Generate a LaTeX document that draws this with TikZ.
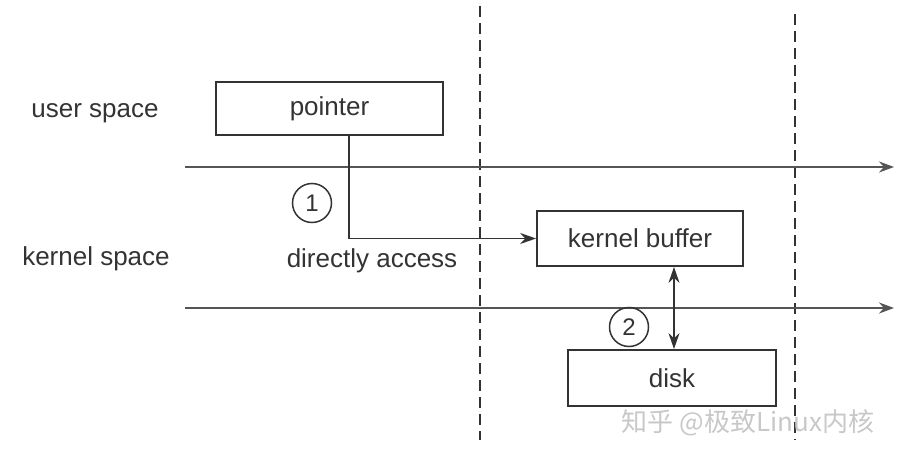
\documentclass[tikz,border=0pt]{standalone}
\usepackage{fontspec}
\setmainfont{Liberation Sans}
\newfontfamily\cjk{Noto Sans CJK SC}
\usetikzlibrary{arrows.meta}
\definecolor{ink}{HTML}{333333}
\definecolor{axis}{HTML}{555555}
\definecolor{wm}{HTML}{C8C8C8}
\tikzset{
  txt/.style={font=\fontsize{26}{30}\selectfont, text=ink, inner sep=0pt},
  boxnode/.style={draw=ink, line width=1.8pt, font=\fontsize{26}{30}\selectfont, text=ink, inner sep=0pt},
  axisline/.style={draw=axis, line width=1.8pt, -{Stealth[length=15pt,width=11pt]}},
  divider/.style={draw=ink, line width=1.8pt, dash pattern=on 11pt off 6pt},
  conn/.style={draw=ink, line width=1.8pt},
  numcircle/.style={circle, draw=ink, line width=1.5pt, minimum size=39pt, inner sep=0pt, font=\fontsize{24}{28}\selectfont, text=ink},
}
\begin{document}
\begin{tikzpicture}[x=1pt,y=-1pt]
\useasboundingbox (0,0) rectangle (900,460);
% dividers
\coordinate (d1t) at (480,6); \coordinate (d1b) at (480,440);
\coordinate (d2t) at (795,14); \coordinate (d2b) at (795,440);
\draw[divider] (d1t) -- (d1b);
\draw[divider] (d2t) -- (d2b);
% axes
\coordinate (a1s) at (185,167); \coordinate (a1e) at (894,167);
\coordinate (a2s) at (185,308); \coordinate (a2e) at (894,308);
\draw[axisline] (a1s) -- (a1e);
\draw[axisline] (a2s) -- (a2e);
% labels
\node[txt] (us) at (95,113) {user space};
\node[txt] (ks) at (96,259) {kernel space};
% boxes
\node[boxnode, fill=white, minimum width=227pt, minimum height=53pt] (ptr) at (329.5,108.5) {\raisebox{-3pt}{pointer}};
\node[boxnode, fill=white, minimum width=206pt, minimum height=55pt] (kb) at (640,238.5) {kernel buffer};
\node[boxnode, fill=white, minimum width=208pt, minimum height=56pt] (disk) at (672,378) {disk};
% connectors
\draw[conn, -{Stealth[length=16pt,width=11pt]}] ([xshift=19.5pt]ptr.south) |- (kb.west);
\draw[conn, {Stealth[length=16pt,width=11pt]}-{Stealth[length=16pt,width=11pt]}] ([xshift=34pt]kb.south) -- ([xshift=34pt]kb.south |- disk.north);
% numbers
\node[numcircle] (n1) at (312,203) {1};
\node[numcircle] (n2) at (629,327) {2};
\node[txt] (da) at (372,261) {directly access};
% watermark
\node[inner sep=0pt, text=wm, font=\cjk\fontsize{26}{30}\selectfont] (wmk) at (748,423) {知乎 @极致Linux内核};
\end{tikzpicture}
\end{document}
